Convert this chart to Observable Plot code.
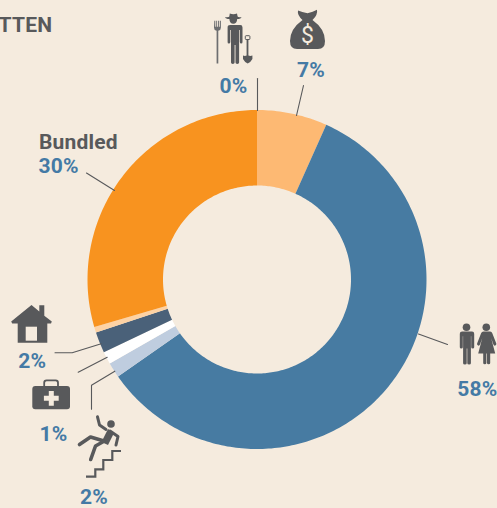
<!DOCTYPE html>
<html><head><meta charset="utf-8">
<script src="https://cdn.jsdelivr.net/npm/d3@7"></script>
<script src="https://cdn.jsdelivr.net/npm/@observablehq/plot@0.6"></script>
<style>html,body{margin:0;padding:0;background:#f5ebde;overflow:hidden}svg{display:block}svg text{letter-spacing:.2px}</style>
</head><body><div id="chart"></div>
<script>
const categories = ["Cash", "Family", "Accident", "Medical", "Housing", "Other", "Bundled"];
const values = [6.7, 58.6, 1.45, 1.2, 2.0, 0.53, 29.52];
const colors = ["#fdb973", "#477ba2", "#bfcddf", "#ffffff", "#4a6179", "#fdd2a4", "#f8931f"];
const labels = ["TTEN", "7%", "0%", "Bundled", "30%", "58%", "2%", "1%", "2%"];
const labelX = [51.7, 310.5, 233, 38.5, 38, 497, 31.7, 53, 93.5];
const labelY = [31, 76, 92, 148.5, 172, 395, 367.5, 440, 503];
const labelAnchor = ["end", "middle", "middle", "start", "start", "end", "middle", "middle", "middle"];
const labelColor = ["#58595b", "#447aa5", "#447aa5", "#58595b", "#447aa5", "#447aa5", "#447aa5", "#447aa5", "#447aa5"];
const leaders = [
  [[257, 78], [257, 110]],
  [[303, 85], [296, 115]],
  [[86, 172.5], [114, 190]],
  [[418, 333.5], [447, 344]],
  [[54.5, 352.3], [71.7, 352.3], [100.7, 343.3]],
  [[77.7, 371.7], [106.7, 356.7]],
  [[91, 408.7], [91, 384.7], [114.3, 370.7]]
];

const cx = 257, cy = 279.5, R = 169.5, r = 94;
let cum = 0;
const arcRows = [];
categories.forEach((c, i) => {
  const a0 = cum * 3.6, a1 = (cum + values[i]) * 3.6;
  cum += values[i];
  const n = Math.max(2, Math.ceil(a1 - a0));
  for (let k = 0; k <= n; k++) {
    const t = (a0 + (a1 - a0) * k / n) * Math.PI / 180;
    arcRows.push({c, x1: cx + r * Math.sin(t), y1: cy - r * Math.cos(t), x2: cx + R * Math.sin(t), y2: cy - R * Math.cos(t)});
  }
});
const labelRows = labels.map((t, i) => ({t, x: labelX[i], y: labelY[i], a: labelAnchor[i], c: labelColor[i]}));
const leaderRows = leaders.flatMap((pts, id) => pts.map(([x, y]) => ({id, x, y})));

const dark = "#58595b", bg = "#f5ebde";
const iconsSvg = `
<g fill="${dark}" stroke="none">
  <!-- farmer -->
  <path d="M225 17.2 Q229 17.6 229.3 16.6 L229.8 13.6 Q233.3 14.8 237 13.6 L237.6 16.6 Q238 17.6 241.5 17.2 Q241 19 237.2 19 Q237 23.6 233.3 23.8 Q229.6 23.6 229.4 19 Q225.6 19 225 17.2Z"/>
  <path d="M226.5 25h13.8q2.2 0 2.2 2.4v14.6q0 1.6-1.3 1.6t-1.4-1.6v-12h-.7v32.6q0 1.4-1.8 1.4t-1.8-1.4v-17.6h-.9v17.6q0 1.4-1.8 1.4t-1.8-1.4v-32.6h-.7v12q0 1.6-1.4 1.6t-1.3-1.6v-14.6q0-2.4 2.6-2.4z"/>
  <path d="M214.3 20.7h1v6h.9v-6h.9v6h.9v-6h.9v6h.9v-6h1.1v7q0 2.6-2.6 3v32.8h-1.7v-32.8q-2.6-.4-2.6-3z" fill="#6d6e70"/>
  <path d="M243 55.5q2 .8 3.6 0v-16h1.8v16q1.8.8 4 0v3.5q-1.5 3-4.7 4.5q-3.2-1.5-4.7-4.5z"/>
  <rect x="245.3" y="35.7" width="4.6" height="3.8" rx=".8" fill="none" stroke="${dark}" stroke-width="1"/>
  <!-- money bag -->
  <path d="M298 10.5Q302 12 307.5 13.2Q313 12 317 9.8Q318 15 312.5 20Q325 29 325 41Q325 49 318 49H297Q290 49 290 41Q290 29 302.5 20Q297 15 298 10.5Z"/>
  <!-- people -->
  <circle cx="466.5" cy="327.2" r="3.8"/><circle cx="486.3" cy="327.2" r="3.8"/>
  <path d="M461 331.6h11q2.2 0 2.2 2.2v13.4q0 1.4-1.5 1.4t-1.5-1.4v-11h-.3v27q0 1.4-1.8 1.4t-1.8-1.4v-14.6h-.6v14.6q0 1.4-1.8 1.4t-1.8-1.4v-27h-.3v11q0 1.4-1.5 1.4t-1.5-1.4v-13.4q0-2.2 2.4-2.2z"/>
  <path d="M482.5 331.6h7.6q1.6 0 2.2 1.6l4 10.4q.3 1.4-1 1.9t-1.9-1l-2.2-6.2l4 15.2h-5v9.6q0 1.2-1.6 1.2t-1.6-1.2v-9.6h-.6v9.6q0 1.2-1.6 1.2t-1.6-1.2v-9.6h-5l4-15.2l-2.2 6.2q-.6 1.5-1.9 1t-1-1.9l4-10.4q.6-1.6 2.4-1.6z"/>
  <!-- house -->
  <path d="M31.5 305L39.3 311.5V305.3H44.3V315.7L51.8 321.5L51 323.5H47.3V342.7H17.7V323.5H12.2L11.2 321.5Z"/>
  <rect x="25.7" y="326.7" width="11.3" height="14" fill="${bg}"/>
  <!-- medkit -->
  <rect x="32.3" y="386" width="37.7" height="23.3" rx="3"/>
  <path d="M44.2 386.5v-3.8q0-2.4 2.4-2.4h9q2.4 0 2.4 2.4v3.8" fill="none" stroke="${dark}" stroke-width="1.8"/>
  <path d="M48.8 391h5v4.8h4.9v5h-4.9v4.9h-5v-4.9h-4.9v-5h4.9z" fill="${bg}"/>
  <!-- faller -->
  <circle cx="111" cy="424" r="3.8"/>
  <path d="M108 429L114 433L108 445L101.5 442Z"/>
</g>
<g fill="none" stroke="${dark}" stroke-linecap="round" stroke-linejoin="round">
  <path d="M97.5 416.8L99.5 425L106 429.5" stroke-width="3"/>
  <path d="M110 431L118 436.5L116 445" stroke-width="3"/>
  <path d="M104 441L90.5 437L79.5 444.5" stroke-width="3.6"/>
  <path d="M103.5 441.5L95.5 446L90.7 459.5" stroke-width="3.6"/>
  <path d="M86 476.7H95.3V469.3H103.3V460H112.3V451H121" stroke-width="2.2" stroke-linecap="butt" stroke-linejoin="miter"/>
</g>
<text x="307.5" y="43" text-anchor="middle" font-family="Roboto" font-size="23" fill="${bg}">$</text>`;

const chart = Plot.plot({
  width: 497, height: 508,
  margin: 0,
  style: {background: bg, fontFamily: "Roboto"},
  x: {domain: [0, 497], range: [0, 497], axis: null},
  y: {domain: [0, 508], range: [0, 508], axis: null},
  color: {domain: categories, range: colors},
  marks: [
    Plot.area(arcRows, {x1: "x1", y1: "y1", x2: "x2", y2: "y2", z: "c", fill: "c"}),
    Plot.line(leaderRows, {x: "x", y: "y", z: "id", stroke: dark, strokeWidth: 1.1}),
    () => {
      const g = document.createElementNS("http://www.w3.org/2000/svg", "g");
      g.innerHTML = iconsSvg;
      return g;
    },
    Plot.text(labelRows, {x: "x", y: "y", text: "t", textAnchor: "end", filter: d => d.a === "end", fill: "c", fontSize: 21, fontWeight: 700, lineAnchor: "bottom"}),
    Plot.text(labelRows, {x: "x", y: "y", text: "t", textAnchor: "middle", filter: d => d.a === "middle", fill: "c", fontSize: 21, fontWeight: 700, lineAnchor: "bottom"}),
    Plot.text(labelRows, {x: "x", y: "y", text: "t", textAnchor: "start", filter: d => d.a === "start", fill: "c", fontSize: 21, fontWeight: 700, lineAnchor: "bottom"})
  ]
});
document.getElementById("chart").append(chart);
</script></body></html>
